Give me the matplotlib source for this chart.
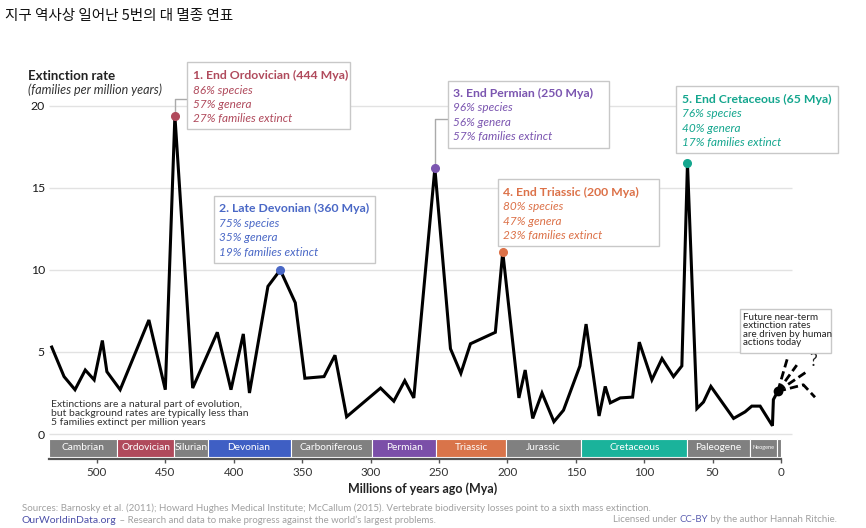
import matplotlib
matplotlib.use('Agg')
import matplotlib.pyplot as plt
from matplotlib.patches import Rectangle

plt.rcParams['font.family'] = ['Lato', 'Noto Sans CJK KR', 'DejaVu Sans']

# extinction rate series (Mya, families per million years)
mya = [533, 524, 516, 508.5, 502, 496, 492.7, 483, 462, 450, 443, 430, 412, 402,
       393, 388.5, 375, 366, 355, 348, 334, 326, 317.5, 292.7, 283, 275, 268.4,
       253, 241.6, 234, 227, 208.8, 203.4, 191.6, 187, 181.5, 174.7, 166, 159,
       147, 142.5, 133, 128.5, 124.8, 117.5, 108.5, 103.6, 94.4, 87, 78.6, 72.5,
       68.4, 61.5, 56.7, 51.3, 34.7, 26.3, 21.4, 15.3, 6.3, 5.6, 2.4]
rate = [5.3, 3.5, 2.7, 3.9, 3.3, 5.7, 3.8, 2.7, 6.95, 2.7, 19.4, 2.8, 6.2, 2.7,
        6.1, 2.5, 9.0, 10.0, 8.0, 3.4, 3.5, 4.8, 1.05, 2.8, 2.0, 3.25, 2.2,
        16.2, 5.2, 3.7, 5.5, 6.2, 11.1, 2.2, 3.9, 0.95, 2.5, 0.75, 1.45,
        4.15, 6.7, 1.1, 2.9, 1.9, 2.2, 2.25, 5.6, 3.3, 4.6, 3.5, 4.15,
        16.5, 1.55, 1.95, 2.9, 0.95, 1.35, 1.7, 1.7, 0.5, 2.1, 2.6]

# the five mass extinctions
events = ['1. End Ordovician (444 Mya)', '2. Late Devonian (360 Mya)',
          '3. End Permian (250 Mya)', '4. End Triassic (200 Mya)',
          '5. End Cretaceous (65 Mya)']
event_mya = [443, 366, 253, 203.4, 68.4]
event_rate = [19.4, 10.0, 16.2, 11.1, 16.5]
species = ['86%', '75%', '96%', '80%', '76%']
genera = ['57%', '35%', '56%', '47%', '40%']
families = ['27%', '19%', '57%', '23%', '17%']
event_colors = ['#b04a5c', '#4a68c6', '#7b55b0', '#dc7148', '#14a68e']

# possible future paths (Mya, rate)
future_mya = [[2.4, -4.6], [2.4, -11.5], [2.4, -18.8], [2.4, -16.3, -24.8]]
future_rate = [[2.6, 4.6], [2.6, 4.2], [2.6, 3.8], [2.6, 3.0, 2.24]]

# geological periods
periods = ['Cambrian', 'Ordovician', 'Silurian', 'Devonian', 'Carboniferous',
           'Permian', 'Triassic', 'Jurassic', 'Cretaceous', 'Paleogene',
           'Neogene', '']
period_start = [535, 485, 443.5, 419, 358.5, 299, 252, 201, 146, 68.4, 22.8, 2.8]
period_end = [485, 443.5, 419, 358.5, 299, 252, 201, 146, 68.4, 22.8, 2.8, 0]
gray = '#808080'
period_colors = [gray, '#b04a5c', gray, '#3f5fc4', gray, '#7b4fa8', '#d9744a',
                 gray, '#1ab39b', gray, gray, gray]

fig = plt.figure(figsize=(8.66, 5.28), dpi=100)
ax = fig.add_axes([49 / 866, 69 / 528, 782 / 866, 419 / 528])
ax.set_xlim(535, -36.5)
ax.set_ylim(-1.524, 24.02)

for s in ['top', 'right', 'left']:
    ax.spines[s].set_visible(False)
ax.spines['bottom'].set_bounds(535, 0)
ax.spines['bottom'].set_color('#555555')
ax.spines['bottom'].set_linewidth(1.6)

ax.set_xticks([500, 450, 400, 350, 300, 250, 200, 150, 100, 50, 0])
ax.tick_params(axis='x', length=3, width=1, color='#555555', labelsize=8.4,
               labelcolor='#333333', pad=3)
ax.set_yticks([0, 5, 10, 15, 20])
ax.tick_params(axis='y', length=0, labelsize=8.8, labelcolor='#1a1a1a', pad=3)

# grid
ax.hlines([0, 5, 10, 15, 20], 535, -8, color='#e2e2e2', lw=1, zorder=0)

# period bar
for name, a, b, c in zip(periods, period_start, period_end, period_colors):
    ax.add_patch(Rectangle((a, -1.38), b - a, 1.06, facecolor=c,
                           edgecolor='white', lw=0.8, zorder=2))
    fs = 4 if name == 'Neogene' else 7.3
    ax.text((a + b) / 2, -0.85, name, color='white', fontsize=fs,
            ha='center', va='center', zorder=3)

# main line
ax.plot(mya, rate, color='black', lw=2.2, solid_joinstyle='miter', zorder=4)
for fm, fr in zip(future_mya, future_rate):
    ax.plot(fm, fr, color='black', lw=2, ls=(0, (3, 1.5)), clip_on=False,
            zorder=4)
ax.plot(mya[-1], rate[-1], 'o', color='black', ms=6, zorder=5)
ax.text(-23.4, 4.45, '?', fontsize=12.5, color='#222222', ha='center',
        va='center')

# event boxes: (box left, box right, box top, box bottom, text x, title y, line step)
boxes = [(434.3, 315.1, 22.66, 18.58, 430.1, 21.85, 0.88),
         (414.4, 297.1, 14.53, 10.41, 410.4, 13.72, 0.88),
         (243.6, 125.8, 21.54, 17.46, 239.9, 20.77, 0.88),
         (206.8, 89.3, 15.57, 11.46, 203.1, 14.74, 0.88),
         (76.6, -41.4, 21.22, 17.12, 72.5, 20.41, 0.88)]
for i, (x0, x1, yt, yb, tx, ty, dy) in enumerate(boxes):
    c = event_colors[i]
    ax.add_patch(Rectangle((x0, yb), x1 - x0, yt - yb, facecolor='white',
                           edgecolor='#c8c8c8', lw=1, clip_on=False, zorder=6))
    ax.text(tx, ty, events[i], color=c, fontsize=8.8, fontweight='bold',
            ha='left', va='center', zorder=7, clip_on=False)
    lines = [species[i] + ' species', genera[i] + ' genera',
             families[i] + ' families extinct']
    for k, t in enumerate(lines):
        ax.text(tx, ty - dy * (k + 1), t, color=c, fontsize=8.5, style='italic',
                ha='left', va='center', zorder=7, clip_on=False)
    ax.plot(event_mya[i], event_rate[i], 'o', color=c, ms=5.5, zorder=8,
            clip_on=False)

# connectors for the two offset boxes
ax.plot([event_mya[0], event_mya[0], boxes[0][0]],
        [event_rate[0] + 0.2, 20.43, 20.43], color='#aaaaaa', lw=1, zorder=3)
ax.plot([event_mya[2], event_mya[2], boxes[2][0]],
        [event_rate[2] + 0.2, 19.19, 19.19], color='#aaaaaa', lw=1, zorder=3)

# future note
ax.add_patch(Rectangle((29.9, 4.96), -66.4, 2.66, facecolor='white',
                       edgecolor='#c8c8c8', lw=1, clip_on=False, zorder=6))
ax.text(28, 6.33, 'Future near-term\nextinction rates\nare driven by human\nactions today',
        fontsize=7.1, color='#222222', ha='left', va='center', linespacing=0.92,
        zorder=7, clip_on=False)

ax.text(533.6, 1.22, 'Extinctions are a natural part of evolution,\n'
        'but background rates are typically less than\n'
        '5 families extinct per million years',
        fontsize=7.5, color='#333333', ha='left', va='center', linespacing=1.0,
        zorder=5)

# axis titles
fig.text(28 / 866, 1 - 76 / 528, 'Extinction rate', fontsize=9.5,
         fontweight='bold', color='#222222', va='center')
fig.text(28 / 866, 1 - 90 / 528, '(families per million years)', fontsize=9,
         style='italic', color='#333333', va='center')
fig.text(423 / 866, 1 - 489 / 528, 'Millions of years ago (Mya)', fontsize=9,
         fontweight='bold', color='#222222', ha='center', va='center')

fig.text(5 / 866, 1 - 16 / 528, '지구 역사상 일어난 5번의 대 멸종 연표',
         fontsize=10.5, color='#111111', va='center',
         family=['Noto Sans CJK KR', 'DejaVu Sans'])

# footer
fig.text(22 / 866, 1 - 508 / 528,
         'Sources: Barnosky et al. (2011); Howard Hughes Medical Institute; McCallum (2015). '
         'Vertebrate biodiversity losses point to a sixth mass extinction.',
         fontsize=7.0, color='#a0a0a0', va='center')
t1 = fig.text(22 / 866, 1 - 520.5 / 528, 'OurWorldinData.org', fontsize=7.5,
              color='#4b4fa8', va='center')
fig.canvas.draw()
bb = t1.get_window_extent()
fig.text(bb.x1 / 866, 1 - 520.5 / 528,
         ' – Research and data to make progress against the world\u2019s largest problems.',
         fontsize=6.9, color='#a0a0a0', va='center')
t3 = fig.text(837 / 866, 1 - 520 / 528, ' by the author Hannah Ritchie.',
              fontsize=6.9, color='#a0a0a0', va='center', ha='right')
bb3 = t3.get_window_extent()
t4 = fig.text(bb3.x0 / 866, 1 - 520 / 528, 'CC-BY', fontsize=6.9,
              color='#5b5eb0', va='center', ha='right')
bb4 = t4.get_window_extent()
fig.text(bb4.x0 / 866, 1 - 520 / 528, 'Licensed under ', fontsize=6.9,
         color='#a0a0a0', va='center', ha='right')

fig.savefig('out.png', dpi=100)
